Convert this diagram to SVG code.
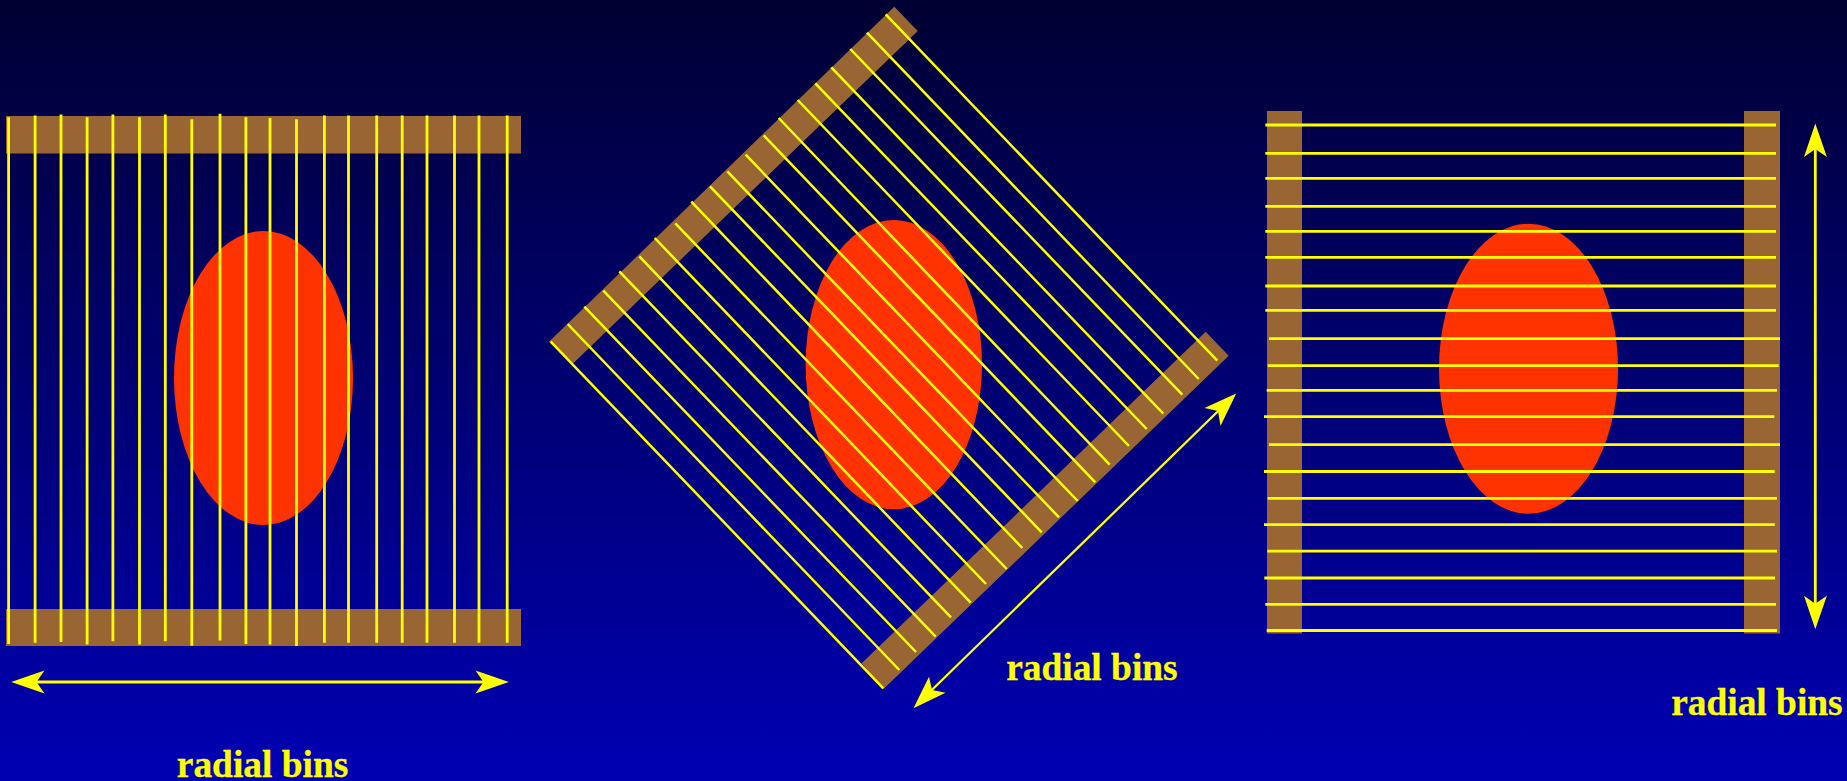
<svg xmlns="http://www.w3.org/2000/svg" width="1847" height="781" viewBox="0 0 1847 781">
<style>
.bar{fill:#996633}
.obj{fill:#ff3300}
.ray line{stroke:#ffff00;stroke-width:2.8;fill:none}
#rays-middle line{stroke-width:2.5}
.arrow line{stroke:#ffff00;stroke-width:2.8;fill:none}
#arrow-middle line{stroke-width:2.3}
.arrow polygon{fill:#ffff00}
.lab{font-family:"Liberation Serif","Times New Roman",serif;font-weight:bold;font-size:37.4px;fill:#ffff00;stroke:#ffff00;stroke-width:0.3}
</style>
<defs><linearGradient id="bg" x1="0" y1="0" x2="0" y2="1"><stop offset="0" stop-color="#000033"/><stop offset="1" stop-color="#0000b3"/></linearGradient></defs>
<rect id="background" width="1847" height="781" fill="url(#bg)"/>
<g id="panel-left">
<ellipse class="obj" cx="263.5" cy="378" rx="89.5" ry="147"/>
<rect class="bar" x="6" y="116" width="515" height="37.5"/>
<rect class="bar" x="6" y="609" width="515" height="37"/>
</g>
<g id="panel-middle">
<ellipse class="obj" cx="893.8" cy="364.6" rx="88.2" ry="144.7"/>
<polygon class="bar" points="894.3,6.7 917.7,31 573.3,363.3 549,341.7"/>
<polygon class="bar" points="1205.7,331.7 1228.7,355.7 883.3,689.3 861.7,663.3"/>
</g>
<g id="panel-right">
<ellipse class="obj" cx="1528.5" cy="368.7" rx="89.5" ry="145"/>
<rect class="bar" x="1267" y="111" width="35" height="522.5"/>
<rect class="bar" x="1744" y="111" width="36" height="522.5"/>
</g>
<g id="connectors">
<g class="ray" id="rays-left">
<line x1="8.6" y1="117.2" x2="8.6" y2="644"/>
<line x1="35.1" y1="115.5" x2="35.1" y2="642.7"/>
<line x1="61" y1="114.5" x2="61" y2="642"/>
<line x1="87.1" y1="117.2" x2="87.1" y2="644.4"/>
<line x1="112.9" y1="114.5" x2="112.9" y2="641.3"/>
<line x1="139.5" y1="117.2" x2="139.5" y2="644.4"/>
<line x1="165.3" y1="114.5" x2="165.3" y2="641.3"/>
<line x1="191.8" y1="119.3" x2="191.8" y2="645.8"/>
<line x1="220" y1="113.8" x2="220" y2="640.6"/>
<line x1="245.9" y1="117.2" x2="245.9" y2="644"/>
<line x1="270" y1="117.9" x2="270" y2="644.4"/>
<line x1="296.5" y1="119.3" x2="296.5" y2="646"/>
<line x1="324.4" y1="115.5" x2="324.4" y2="642.7"/>
<line x1="348.5" y1="115.5" x2="348.5" y2="642.7"/>
<line x1="376.7" y1="115.5" x2="376.7" y2="642.7"/>
<line x1="402.2" y1="115.5" x2="402.2" y2="642.7"/>
<line x1="427" y1="115.5" x2="427" y2="642.7"/>
<line x1="454.5" y1="115.5" x2="454.5" y2="642.7"/>
<line x1="479" y1="115.5" x2="479" y2="642.7"/>
<line x1="507.2" y1="115.5" x2="507.2" y2="642.7"/>
</g>
<g class="ray" id="rays-middle">
<line x1="550.7" y1="341.7" x2="883.3" y2="688.3"/>
<line x1="567.7" y1="324" x2="899.3" y2="670"/>
<line x1="584.3" y1="306.7" x2="916" y2="652"/>
<line x1="603.3" y1="290.7" x2="935.7" y2="636.7"/>
<line x1="619.3" y1="271.3" x2="951" y2="617.3"/>
<line x1="639.3" y1="256.3" x2="970.7" y2="602.7"/>
<line x1="654.7" y1="238" x2="986" y2="584"/>
<line x1="675.3" y1="223.3" x2="1006.7" y2="569"/>
<line x1="691.3" y1="201.7" x2="1022.3" y2="548"/>
<line x1="710" y1="186.3" x2="1041.7" y2="532.3"/>
<line x1="727.3" y1="171.3" x2="1059" y2="517.3"/>
<line x1="745.7" y1="154.7" x2="1077.7" y2="501"/>
<line x1="763.7" y1="135.3" x2="1095.3" y2="482.3"/>
<line x1="778.7" y1="118" x2="1109.7" y2="464.7"/>
<line x1="797.7" y1="100" x2="1129" y2="446"/>
<line x1="815.3" y1="83.3" x2="1146.7" y2="429"/>
<line x1="831.3" y1="67.3" x2="1163.3" y2="413.7"/>
<line x1="850.3" y1="49" x2="1182.3" y2="394.7"/>
<line x1="867" y1="32.7" x2="1198.7" y2="379"/>
<line x1="885.7" y1="14.3" x2="1217.3" y2="360.7"/>
</g>
<g class="ray" id="rays-right">
<line x1="1265.3" y1="125" x2="1776" y2="125"/>
<line x1="1265.3" y1="153.3" x2="1776" y2="153.3"/>
<line x1="1265.3" y1="178.3" x2="1776" y2="178.3"/>
<line x1="1265.3" y1="206.3" x2="1776" y2="206.3"/>
<line x1="1265.3" y1="231.3" x2="1776" y2="231.3"/>
<line x1="1265.3" y1="257.3" x2="1776" y2="257.3"/>
<line x1="1265.3" y1="286" x2="1776" y2="286"/>
<line x1="1265.3" y1="310.3" x2="1776" y2="310.3"/>
<line x1="1269" y1="338.7" x2="1780" y2="338.7"/>
<line x1="1267.7" y1="365.7" x2="1778.7" y2="365.7"/>
<line x1="1266.7" y1="390.3" x2="1777" y2="390.3"/>
<line x1="1264" y1="416.7" x2="1774.3" y2="416.7"/>
<line x1="1269" y1="444.7" x2="1780" y2="444.7"/>
<line x1="1264" y1="471.5" x2="1774.7" y2="471.5"/>
<line x1="1267.7" y1="498.3" x2="1777" y2="498.3"/>
<line x1="1264" y1="524.7" x2="1774.7" y2="524.7"/>
<line x1="1267.3" y1="551.2" x2="1777" y2="551.2"/>
<line x1="1264.3" y1="578" x2="1775" y2="578"/>
<line x1="1265.3" y1="604.3" x2="1776" y2="604.3"/>
<line x1="1266.7" y1="630.5" x2="1777" y2="630.5"/>
</g>
<g class="arrow" id="arrow-left">
<line x1="30" y1="682" x2="490" y2="682"/>
<polygon points="11.2,682 44.5,670.5 36.5,682 44.5,693.5"/>
<polygon points="508.8,682 475.5,670.5 483.5,682 475.5,693.5"/>
</g>
<g class="arrow" id="arrow-middle">
<line x1="930" y1="691.7" x2="1220" y2="409.3"/>
<polygon points="1236.2,393.5 1204.5,408 1218,411 1220.5,426"/>
<polygon points="913.5,708.2 929,676.8 932,690 945.5,692.8"/>
</g>
<g class="arrow" id="arrow-right">
<line x1="1815.3" y1="146" x2="1815.3" y2="606"/>
<polygon points="1815.3,123.5 1804,157 1815.3,149 1826.9,157"/>
<polygon points="1815.3,629.2 1804,595.7 1815.3,603.7 1826.9,595.7"/>
</g>
</g>
<text class="lab" id="label-left" x="176.8" y="777">radial bins</text>
<text class="lab" id="label-middle" x="1006.2" y="679.5">radial bins</text>
<text class="lab" id="label-right" x="1671.2" y="714.5">radial bins</text>
</svg>
